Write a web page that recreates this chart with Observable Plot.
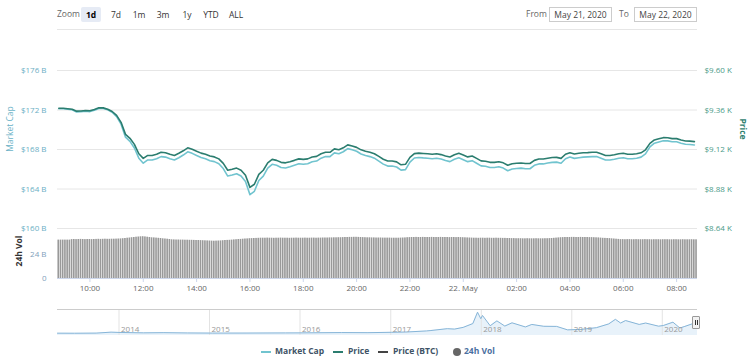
<!DOCTYPE html>
<html><head><meta charset="utf-8">
<script src="https://cdn.jsdelivr.net/npm/d3@7"></script>
<script src="https://cdn.jsdelivr.net/npm/@observablehq/plot@0.6"></script>
<style>
body{margin:0;background:#fff;font-family:"Open Sans",sans-serif;}
#wrap{position:relative;width:750px;height:358px;overflow:hidden;background:#fff;}
#wrap svg.plotsvg{position:absolute;left:0;top:0;}
.t{position:absolute;white-space:nowrap;font-size:8.5px;line-height:1;}
.btn{position:absolute;top:7px;width:20px;height:15px;line-height:15px;text-align:center;font-size:8.5px;color:#333;border-radius:2px;}
.sel{background:#e6ebf5;font-weight:bold;color:#000;}
.box{position:absolute;top:7px;width:61px;height:13px;line-height:13px;border:1px solid #ccc;text-align:center;font-size:8.5px;color:#444;}
.rot{position:absolute;white-space:nowrap;font-size:8.5px;line-height:1;}
.hl{position:absolute;height:1px;background:#e6e6e6;}
.lg{position:absolute;top:347px;font-size:8.5px;font-weight:bold;color:#3e5366;white-space:nowrap;line-height:1;}
.dash{position:absolute;top:351px;height:2px;width:10px;}
</style></head>
<body><div id="wrap">
<div class="t" style="left:57px;top:10px;color:#666">Zoom</div>
<div class="btn sel" style="left:81px">1d</div>
<div class="btn" style="left:106px">7d</div>
<div class="btn" style="left:129px">1m</div>
<div class="btn" style="left:153px">3m</div>
<div class="btn" style="left:177px">1y</div>
<div class="btn" style="left:201px">YTD</div>
<div class="btn" style="left:226px">ALL</div>
<div class="t" style="left:526px;top:10px;color:#666">From</div>
<div class="box" style="left:549px">May 21, 2020</div>
<div class="t" style="left:619px;top:10px;color:#666">To</div>
<div class="box" style="left:634px">May 22, 2020</div>
<div class="hl" style="left:57px;top:29px;width:640px;"></div>
<div class="hl" style="left:57px;top:309px;width:640px;background:#cccccc"></div>
<div class="rot" style="left:10px;top:129px;color:#6cb3c7;transform:translate(-50%,-50%) rotate(-90deg)">Market Cap</div>
<div class="rot" style="left:19px;top:251px;color:#333;font-weight:bold;transform:translate(-50%,-50%) rotate(-90deg)">24h Vol</div>
<div class="rot" style="left:743px;top:129px;color:#2f7f70;font-weight:bold;transform:translate(-50%,-50%) rotate(90deg)">Price</div>
<div class="dash" style="left:261px;background:#71c4cf"></div><div class="lg" style="left:275px">Market Cap</div>
<div class="dash" style="left:333px;background:#2b7d6f"></div><div class="lg" style="left:348px">Price</div>
<div class="dash" style="left:378px;background:#444"></div><div class="lg" style="left:393px">Price (BTC)</div>
<div style="position:absolute;left:453px;top:348px;width:8px;height:8px;border-radius:50%;background:#666"></div><div class="lg" style="left:464px;color:#4a6fa0">24h Vol</div>
</div>
<script>
// ---- data ----
const price = [9371,9371,9368,9365,9353,9354,9357,9355,9363,9373,
9373,9365,9351,9327,9285,9212,9188,9151,9094,9066,
9084,9084,9091,9103,9100,9091,9084,9097,9112,9130,
9121,9109,9098,9091,9080,9075,9063,9036,8994,9000,
9007,8994,8963,8890,8909,8969,8994,9039,9060,9054,
9042,9039,9046,9054,9063,9060,9063,9074,9078,9094,
9103,9103,9124,9119,9130,9148,9141,9133,9118,9109,
9103,9094,9078,9061,9050,9050,9045,9027,9030,9072,
9095,9098,9096,9094,9091,9094,9089,9081,9075,9088,
9097,9086,9075,9080,9066,9051,9049,9042,9042,9046,
9039,9024,9033,9036,9038,9035,9035,9054,9062,9062,
9067,9071,9072,9066,9091,9100,9093,9097,9100,9101,
9103,9103,9094,9084,9084,9088,9094,9097,9091,9091,
9094,9100,9118,9157,9178,9185,9192,9191,9186,9186,
9178,9172,9171,9168];
const marketCap = [172.13,172.13,172.07,172.02,171.80,171.82,171.87,171.84,171.98,172.16,
172.16,172.02,171.77,171.33,170.57,169.25,168.82,168.15,167.12,166.61,
166.94,166.94,167.06,167.28,167.23,167.06,166.94,167.17,167.44,167.77,
167.61,167.39,167.19,167.06,166.87,166.77,166.56,166.07,165.31,165.42,
165.55,165.31,164.75,163.43,163.77,164.86,165.31,166.12,166.50,166.40,
166.18,166.12,166.25,166.40,166.56,166.50,166.56,166.76,166.83,167.12,
167.28,167.28,167.66,167.57,167.77,168.09,167.97,167.82,167.55,167.39,
167.28,167.12,166.83,166.52,166.32,166.32,166.23,165.91,165.96,166.72,
167.14,167.19,167.15,167.12,167.06,167.12,167.03,166.88,166.77,167.01,
167.17,166.97,166.77,166.87,166.61,166.34,166.30,166.18,166.18,166.25,
166.12,165.85,166.02,166.07,166.11,166.05,166.05,166.40,166.54,166.54,
166.63,166.70,166.72,166.61,167.06,167.23,167.10,167.17,167.23,167.25,
167.28,167.28,167.12,166.94,166.94,167.01,167.12,167.17,167.06,167.06,
167.12,167.23,167.55,168.26,168.64,168.76,168.89,168.87,168.78,168.78,
168.64,168.53,168.51,168.46];
const volume = [38.4,38.4,38.4,38.4,38.4,38.4,
38.9,39.0,38.9,39.0,39.1,39.0,38.9,39.0,39.0,38.9,39.0,39.1,
39.2,39.1,39.2,39.3,39.2,39.2,39.3,39.3,39.4,
39.5,39.6,39.8,40.0,40.3,40.5,40.8,41.0,41.3,41.5,41.7,41.8,41.6,
41.3,41.0,40.7,40.6,40.4,40.2,40.0,39.7,39.5,39.3,39.0,
38.7,38.6,38.5,38.5,38.4,38.4,38.3,38.3,38.2,38.2,38.1,38.0,38.0,37.9,37.8,37.7,37.6,37.5,37.4,37.3,37.4,37.5,37.6,37.8,38.0,38.1,38.2,
38.4,38.6,38.8,39.0,39.1,39.3,39.5,39.6,39.8,39.9,40.0,40.1,
40.2,40.3,40.3,40.3,40.4,40.3,40.3,40.2,40.3,40.3,40.4,40.3,40.3,40.3,40.2,40.3,40.3,40.4,40.3,40.3,40.3,40.4,40.3,40.3,40.4,40.4,40.3,40.4,40.4,40.5,40.5,
40.5,40.6,40.6,40.7,40.7,40.8,40.8,40.9,41.0,41.0,41.1,41.1,41.2,41.2,41.1,
41.0,40.9,40.8,40.7,40.7,40.6,40.6,40.5,40.5,40.5,40.4,40.4,40.4,40.4,40.3,40.3,40.3,40.3,40.4,40.5,40.6,40.8,40.9,
41.0,41.0,41.1,41.0,41.0,41.1,41.0,41.0,41.0,41.1,41.0,41.0,41.0,41.1,41.0,41.0,41.0,40.9,41.0,41.0,40.9,41.0,40.9,40.8,40.7,40.6,40.5,40.4,
40.3,40.3,40.2,40.3,40.3,40.2,40.3,40.3,40.2,40.2,40.3,40.2,40.2,40.1,40.1,40.0,40.0,39.9,39.9,39.8,39.8,
39.8,39.7,39.7,39.8,39.7,39.7,39.7,39.8,39.7,39.7,39.7,39.8,39.8,39.9,40.0,40.2,40.4,40.6,40.8,40.9,41.0,
41.0,41.0,41.1,41.1,41.0,41.0,41.1,41.0,41.0,41.0,40.9,40.9,40.8,40.7,40.6,40.4,40.2,
40.1,40.0,39.9,39.7,39.5,39.3,39.1,
38.9,38.9,38.8,38.9,38.9,38.8,38.8,38.9,38.8,38.8,38.8,38.9,38.8,38.8,38.7,38.8,38.8,38.8,38.7,38.8,38.8,38.8,38.7,38.7,38.8,38.8,38.7,38.7,38.8,38.7,38.7,38.7,38.8,38.7,38.7];
const navDates = ["2013-04-28","2013-07-05","2013-10-01","2013-11-30","2014-01-05","2014-04-10","2014-07-01","2014-10-05","2015-01-14","2015-06-01","2015-11-04","2016-01-01","2016-06-17","2016-10-01","2017-01-04","2017-03-03","2017-05-25","2017-06-12","2017-08-17","2017-09-15","2017-10-20","2017-11-28","2017-12-17","2017-12-30","2018-01-06","2018-02-06","2018-03-05","2018-04-06","2018-05-05","2018-06-28","2018-07-24","2018-09-10","2018-11-01","2018-12-15","2019-02-07","2019-04-10","2019-05-30","2019-06-26","2019-07-17","2019-08-06","2019-09-30","2019-10-26","2019-12-17","2020-01-05","2020-02-13","2020-03-12","2020-04-01","2020-04-30","2020-05-22"];
const navPrice = [135,90,200,1100,800,450,620,350,220,250,380,420,700,620,950,1200,2200,2600,4300,3900,5500,9000,19500,13500,16500,7000,11500,6700,9700,5900,8200,6500,6400,3200,3600,5200,8700,12900,9500,11800,8200,9500,6600,7200,10300,4900,6400,8700,9100];
const mcapTicks = [160,164,168,172,176];
const priceTicks = [8640,8880,9120,9360,9600];
const volTicks = [0,24];
const navYears = ["2014","2015","2016","2017","2018","2019","2020"];

// ---- build ----
const t0 = new Date(Date.UTC(2020,4,21,8,47));
const t1 = new Date(Date.UTC(2020,4,22,8,47));
const lineStart = Date.UTC(2020,4,21,8,50);
const volStart = Date.UTC(2020,4,21,8,48);
const MIN = 60000;
const lineData = price.map((p,i)=>({t:new Date(lineStart+i*10*MIN), price:p, mcap:marketCap[i]}));
const volData = volume.map((v,i)=>({t1:new Date(volStart+i*5*MIN), t2:new Date(volStart+(i+1)*5*MIN), v}));
const navData = navDates.map((d,i)=>({d:new Date(d+"T00:00Z"), v:navPrice[i]}));
const yearDates = navYears.map(y=>new Date(y+"-01-01T00:00Z"));
const hourTicks = d3.utcHour.every(2).range(t0, t1);

const W=750, H=358;
const st = {fontFamily:"'Open Sans',sans-serif", fontSize:"8px", background:"transparent", overflow:"visible"};
const common = {width:W, height:H, marginLeft:57, marginRight:53, style:st};
const wrap = document.getElementById("wrap");
function add(svg){ svg.classList.add("plotsvg"); wrap.insertBefore(svg, wrap.firstChild.nextSibling); }

const pMcap = Plot.plot({...common, marginTop:70, marginBottom:130,
  x:{type:"utc", domain:[t0,t1], axis:null},
  y:{domain:[160,176], axis:null},
  marks:[
    Plot.gridY(mcapTicks, {stroke:"#e6e6e6", strokeOpacity:1}),
    Plot.axisY(mcapTicks, {anchor:"left", tickSize:0, tickPadding:11, tickFormat:d=>`$${d} B`, color:"#6aaec4", label:null}),
    Plot.lineY(lineData, {x:"t", y:"mcap", stroke:"#71c4cf", strokeWidth:1.6})
  ]});
const pPrice = Plot.plot({...common, marginTop:70, marginBottom:130,
  x:{type:"utc", domain:[t0,t1], axis:null},
  y:{domain:[8640,9600], axis:null},
  marks:[
    Plot.axisY(priceTicks, {anchor:"right", tickSize:0, tickPadding:7, tickFormat:d=>`$${(d/1000).toFixed(2)} K`, color:"#4a9a88", label:null}),
    Plot.lineY(lineData, {x:"t", y:"price", stroke:"#2b7d6f", strokeWidth:1.6})
  ]});
const pVol = Plot.plot({...common, marginTop:228, marginBottom:80,
  x:{type:"utc", domain:[t0,t1], axis:null},
  y:{domain:[0,50], axis:null},
  marks:[
    Plot.rectY(volData, {x1:"t1", x2:"t2", y:"v", fill:"#999", insetRight:0.6}),
    Plot.ruleY([0], {stroke:"#ccd6eb"}),
    Plot.axisY(volTicks, {anchor:"left", tickSize:0, tickPadding:11, tickFormat:d=>d?`${d} B`:"0", color:"#7fa0bb", label:null}),
    Plot.axisX(hourTicks, {anchor:"bottom", tickSize:4, tickPadding:3, stroke:"#ccd6eb", fill:"#666", label:null,
      tickFormat:d=>d.getUTCHours()===0 ? d3.utcFormat("%-d. %b")(d) : d3.utcFormat("%H:%M")(d)})
  ]});
const navMin = -2000;
const pNav = Plot.plot({...common, marginTop:309, marginBottom:23,
  x:{type:"utc", domain:[navData[0].d, navData[navData.length-1].d], axis:null},
  y:{domain:[navMin,22000], axis:null},
  marks:[
    Plot.areaY(navData, {x:"d", y1:navMin, y2:"v", fill:"#e8f2fa"}),
    Plot.ruleX(yearDates, {stroke:"#e3e3e3"}),
    Plot.lineY(navData, {x:"d", y:"v", stroke:"#86b5d8", strokeWidth:1}),
    Plot.axisX(yearDates, {anchor:"bottom", tickSize:0, tickPadding:0, dy:-9, dx:2, textAnchor:"start", tickFormat:d3.utcFormat("%Y"), color:"#999", label:null})
  ]});
[pNav, pVol, pPrice, pMcap].forEach(add);
// navigator handle
const h = document.createElement("div");
h.style.cssText="position:absolute;left:692px;top:316px;width:6px;height:11px;background:#f2f2f2;border:1px solid #999;border-radius:1px;";
h.innerHTML='<div style="position:absolute;left:1.5px;top:3px;width:1px;height:5px;background:#333"></div><div style="position:absolute;left:3.5px;top:3px;width:1px;height:5px;background:#333"></div>';
wrap.appendChild(h);
</script>
</body></html>
